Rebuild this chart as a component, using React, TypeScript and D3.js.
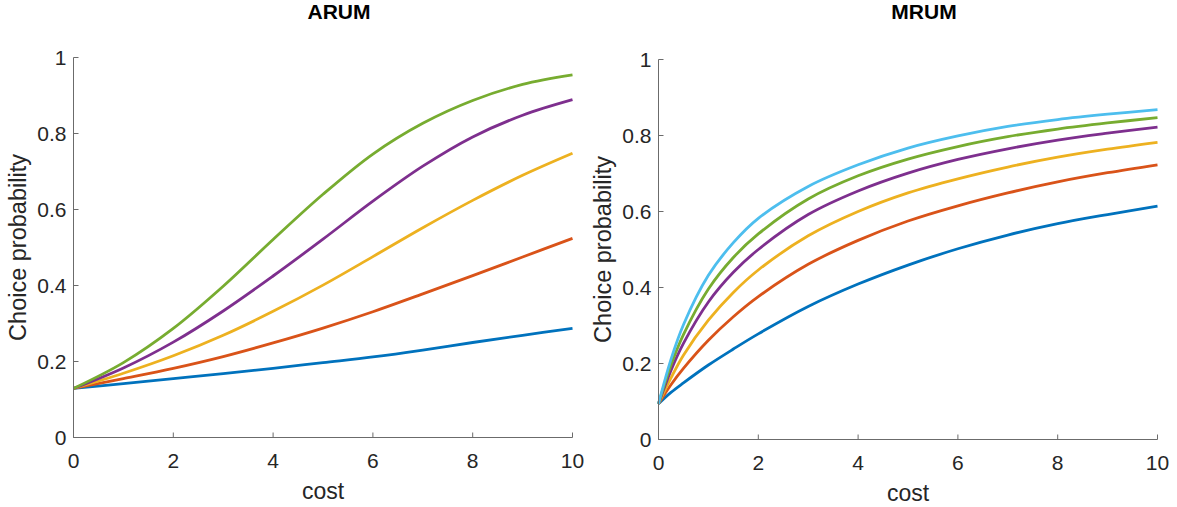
import React from "react";
import * as d3 from "d3";

const arumCost = [0, 1, 2, 3, 4, 5, 6, 7, 8, 9, 10];
const arumBlue = [0.129, 0.142, 0.155, 0.168, 0.182, 0.197, 0.212, 0.23, 0.25, 0.269, 0.287];
const arumRed = [0.129, 0.155, 0.182, 0.213, 0.249, 0.288, 0.331, 0.378, 0.426, 0.475, 0.524];
const arumYellow = [0.129, 0.169, 0.215, 0.269, 0.332, 0.401, 0.476, 0.552, 0.624, 0.69, 0.748];
const arumPurple = [0.129, 0.183, 0.251, 0.333, 0.425, 0.522, 0.622, 0.714, 0.791, 0.848, 0.889];
const arumGreen = [0.129, 0.197, 0.287, 0.398, 0.521, 0.64, 0.746, 0.827, 0.887, 0.929, 0.954];

const mrumCost = [0, 0.25, 0.5, 1, 1.5, 2, 3, 4, 5, 6, 7, 8, 9, 10];
const mrumBlue = [0.094, 0.124, 0.149, 0.196, 0.238, 0.278, 0.35, 0.409, 0.459, 0.502, 0.538, 0.568, 0.592, 0.614];
const mrumRed = [0.094, 0.144, 0.187, 0.261, 0.323, 0.376, 0.461, 0.524, 0.575, 0.615, 0.649, 0.678, 0.702, 0.723];
const mrumYellow = [0.094, 0.162, 0.222, 0.314, 0.387, 0.446, 0.536, 0.6, 0.649, 0.686, 0.717, 0.743, 0.764, 0.782];
const mrumPurple = [0.094, 0.182, 0.253, 0.362, 0.44, 0.5, 0.592, 0.654, 0.701, 0.737, 0.765, 0.788, 0.806, 0.822];
const mrumGreen = [0.094, 0.196, 0.276, 0.396, 0.479, 0.541, 0.633, 0.694, 0.738, 0.771, 0.797, 0.817, 0.833, 0.847];
const mrumCyan = [0.094, 0.211, 0.302, 0.432, 0.518, 0.582, 0.666, 0.723, 0.767, 0.799, 0.824, 0.842, 0.856, 0.868];

const xTicks = [0, 2, 4, 6, 8, 10];
const yTicks = [0, 0.2, 0.4, 0.6, 0.8, 1];

const colors = ["#0072BD", "#D95319", "#EDB120", "#7E2F8E", "#77AC30", "#4DBEEE"];

const FONT = "'Liberation Sans', Arial, Helvetica, sans-serif";
const AXIS = "#6b6b6b";
const TEXT = "#262626";

type PanelProps = {
  title: string;
  cost: number[];
  series: number[][];
  x0: number;
  x1: number;
  y0: number;
  y1: number;
  titleY: number;
};

const Panel = ({ title, cost, series, x0, x1, y0, y1, titleY }: PanelProps) => {
  const x = d3.scaleLinear().domain([0, 10]).range([x0, x1]);
  const y = d3.scaleLinear().domain([0, 1]).range([y0, y1]);

  const line = d3
    .line<number>()
    .x((d, i) => x(cost[i]))
    .y((d) => y(d))
    .curve(d3.curveCatmullRom.alpha(0.5));

  const midX = (x0 + x1) / 2;
  const midY = (y0 + y1) / 2;

  return (
    <g fontFamily={FONT}>
      <text x={midX + 16} y={titleY} textAnchor="middle" fontSize={21} fontWeight="bold" fill="#000">
        {title}
      </text>

      {series.map((s, i) => (
        <path key={i} d={line(s) || ""} fill="none" stroke={colors[i]} strokeWidth={2.8} />
      ))}

      {/* axes, box off */}
      <line x1={x0} x2={x0} y1={y1} y2={y0} stroke={AXIS} />
      <line x1={x0} x2={x1} y1={y0} y2={y0} stroke={AXIS} />

      {yTicks.map((t) => (
        <g key={"y" + t}>
          <line x1={x0} x2={x0 + 5} y1={y(t)} y2={y(t)} stroke={AXIS} />
          <text x={x0 - 7} y={y(t)} dy="0.36em" textAnchor="end" fontSize={21} fill={TEXT}>
            {t}
          </text>
        </g>
      ))}

      {xTicks.map((t) => (
        <g key={"x" + t}>
          <line x1={x(t)} x2={x(t)} y1={y0} y2={y0 - 5} stroke={AXIS} />
          <text x={x(t)} y={y0 + 30} textAnchor="middle" fontSize={21} fill={TEXT}>
            {t}
          </text>
        </g>
      ))}

      <text x={midX} y={y0 + 61} textAnchor="middle" fontSize={23} fill={TEXT}>
        cost
      </text>
      <text
        transform={`translate(${x0 - 48},${midY}) rotate(-90)`}
        textAnchor="middle"
        fontSize={23.5}
        fill={TEXT}
      >
        Choice probability
      </text>
    </g>
  );
};

export default function App() {
  return (
    <svg
      width={1177}
      height={507}
      style={{ position: "absolute", left: 0, top: 0, background: "#fff" }}
    >
      <Panel
        title="ARUM"
        cost={arumCost}
        series={[arumBlue, arumRed, arumYellow, arumPurple, arumGreen]}
        x0={73.5}
        x1={572.5}
        y0={437.5}
        y1={57.5}
        titleY={19}
      />
      <Panel
        title="MRUM"
        cost={mrumCost}
        series={[mrumBlue, mrumRed, mrumYellow, mrumPurple, mrumGreen, mrumCyan]}
        x0={658.5}
        x1={1157.5}
        y0={439.5}
        y1={59.5}
        titleY={19}
      />
    </svg>
  );
}
